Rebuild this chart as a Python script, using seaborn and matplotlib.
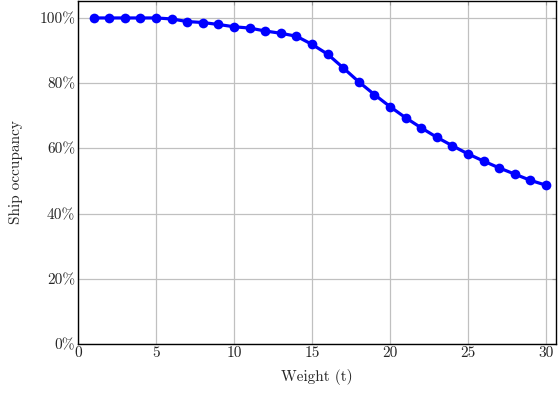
import matplotlib
matplotlib.use("Agg")
import matplotlib.pyplot as plt
import seaborn as sns
import pandas as pd
from matplotlib.ticker import FuncFormatter

weights = list(range(1, 31))
occupancy = [100.0, 100.0, 100.0, 100.0, 100.0, 99.7, 98.9, 98.6, 98.0, 97.3,
             96.9, 96.0, 95.3, 94.4, 91.9, 88.9, 84.7, 80.4, 76.5, 72.8,
             69.4, 66.3, 63.4, 60.8, 58.3, 56.1, 54.0, 52.1, 50.2, 48.7]
x_ticks = [0, 5, 10, 15, 20, 25, 30]
y_ticks = [0, 20, 40, 60, 80, 100]

sns.set_style("white")
plt.rcParams['font.family'] = ['cmr10', 'DejaVu Serif']
plt.rcParams['axes.unicode_minus'] = False

df = pd.DataFrame({"Weight": weights, "Occupancy": occupancy})

fig = plt.figure(figsize=(5.58, 3.94), dpi=100)
ax = fig.add_axes([78/558, 50/394, (556-78)/558, (393-50)/394])

sns.lineplot(data=df, x="Weight", y="Occupancy", ax=ax, color=(0, 0, 1),
             linewidth=2.3, marker="o", markersize=7, markeredgewidth=0,
             zorder=3)

ax.set_xlim(0, 30.64)
ax.set_ylim(0, 105.2)
ax.set_xticks(x_ticks)
ax.set_yticks(y_ticks)
ax.yaxis.set_major_formatter(FuncFormatter(lambda v, p: f"{int(v)}%"))
ax.grid(True, color="#c0c0c0", linewidth=0.9, zorder=0)
ax.set_axisbelow(True)
ax.tick_params(axis="both", direction="in", length=3, color="#999999",
               labelsize=11, pad=2, top=True, right=True)
for s in ax.spines.values():
    s.set_color("black")
    s.set_linewidth(1.0)
ax.set_xlabel("Weight (t)", fontsize=11, labelpad=6)
ax.set_ylabel("Ship occupancy", fontsize=11, labelpad=12)

fig.savefig("out.png", dpi=100)
